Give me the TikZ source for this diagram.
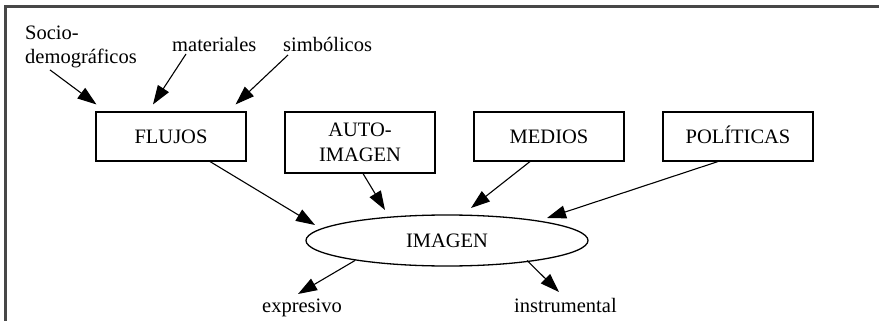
\documentclass[tikz,border=0pt]{standalone}
\usepackage{fontspec}
\setmainfont{Liberation Serif}
\usetikzlibrary{arrows.meta,shapes.geometric,calc}
\begin{document}
\begin{tikzpicture}[x=1pt,y=-1pt,
  every node/.style={font=\fontsize{20.5pt}{25pt}\selectfont, inner sep=0pt},
  boxnode/.style={draw, line width=1.1pt, rectangle, minimum width=150pt, minimum height=49pt},
  onetext/.style={text height=13.5pt, text depth=0pt},
  ellnode/.style={draw, line width=1.3pt, ellipse, minimum width=282pt, minimum height=51pt, text height=13.5pt, text depth=0pt},
  lbl/.style={anchor=base west},
  arr/.style={line width=1.1pt, -{Triangle[length=19pt,width=13pt]}},
  framel/.style={line width=2.2pt, draw=black!72}
]
\useasboundingbox (0,0) rectangle (879,321);
\draw[framel] (5.5,321) -- (5.5,6.5) -- (879,6.5);

\node[boxnode,onetext] (flujos) at (171,136.5) {FLUJOS};
\node[boxnode,minimum height=61pt,align=center] (auto) at (360,142.5) {AUTO-\\IMAGEN};
\node[boxnode,onetext] (medios) at (549,136.5) {MEDIOS};
\node[boxnode,onetext] (politicas) at (738,136.5) {POLÍTICAS};
\node[ellnode] (imagen) at (447,240.5) {IMAGEN};

\node[anchor=north west, align=left, font=\fontsize{20.5pt}{23.5pt}\selectfont] (socio) at (25,26) {Socio-\\demográficos};
\node[lbl] (materiales) at (172,52) {materiales};
\node[lbl] (simbolicos) at (283,52) {simbólicos};
\node[lbl] (expresivo) at (262,312) {expresivo};
\node[lbl] (instrumental) at (514,312) {instrumental};

\draw[arr] ($(socio.south west)+(25,2)$) -- ($(flujos.north west)+(1,-7)$);
\draw[arr] ($(materiales.base west)+(14,2)$) -- ($(flujos.north)+(-18,-7)$);
\draw[arr] ($(simbolicos.base west)+(5,3)$) -- ($(flujos.north east)+(-11,-7)$);
\draw[arr] ($(flujos.south)+(39,0)$) -- ($(imagen.center)+(-132,-15.5)$);
\draw[arr] ($(auto.south)+(3,0)$) -- ($(imagen.center)+(-62,-30.5)$);
\draw[arr] ($(medios.south)+(-19,0)$) -- ($(imagen.center)+(24,-32.5)$);
\draw[arr] ($(politicas.south)+(-20,0)$) -- ($(imagen.center)+(100,-22.5)$);
\draw[arr] ($(imagen.center)+(-92,20)$) -- ($(expresivo.base west)+(36,-18)$);
\draw[arr] ($(imagen.center)+(80,20)$) -- ($(instrumental.base west)+(45,-20)$);
\end{tikzpicture}
\end{document}
